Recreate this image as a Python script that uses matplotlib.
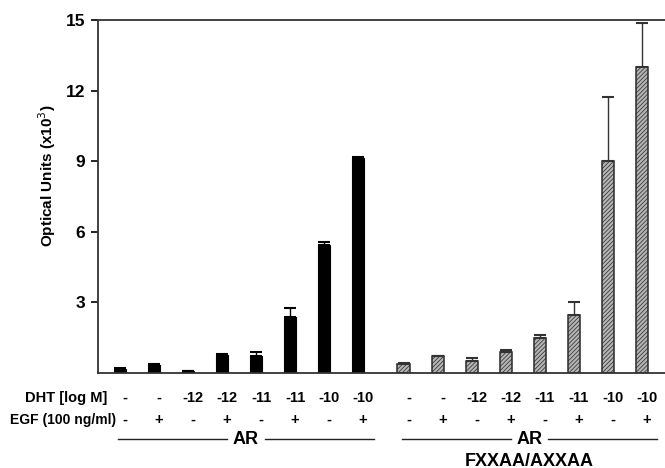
import matplotlib
matplotlib.use("Agg")
import matplotlib.pyplot as plt
import matplotlib.transforms as mtransforms
import numpy as np

plt.rcParams['font.family'] = ['Liberation Sans', 'DejaVu Sans']
plt.rcParams['hatch.linewidth'] = 0.5

# Data
dht_labels = ["-", "-", "-12", "-12", "-11", "-11", "-10", "-10"]
egf_labels = ["-", "+", "-", "+", "-", "+", "-", "+"]
ar_values = [0.17, 0.33, 0.08, 0.77, 0.72, 2.38, 5.45, 9.12]
ar_errors = [0.05, 0.04, 0.02, 0.03, 0.18, 0.40, 0.12, 0.05]
mut_values = [0.38, 0.72, 0.51, 0.89, 1.49, 2.47, 9.02, 13.02]
mut_errors = [0.05, 0.02, 0.13, 0.08, 0.13, 0.55, 2.72, 1.87]
group_names = ["AR", "AR"]
group_sub = ["", "FXXAA/AXXAA"]
yticks = [3, 6, 9, 12, 15]

fig = plt.figure(figsize=(6.65, 4.68), dpi=100)
ax = fig.add_axes([98/665, 1-373/468, 1-98/665, (373-20)/468])

n = len(ar_values)
gap = 1.33
x1 = np.arange(n)
x2 = np.arange(n) + n + gap - 1
w = 0.36

ax.bar(x1, ar_values, width=w, color='black', edgecolor='black', linewidth=0.8, zorder=2)
ax.errorbar(x1, ar_values, yerr=[np.zeros(n), ar_errors], fmt='none',
            ecolor='black', elinewidth=1, capsize=4, capthick=1.5, zorder=3)
ax.bar(x2, mut_values, width=w, color='#b4b4b4', edgecolor='#2a2a2a', hatch='////////',
       linewidth=1.1, zorder=2)
ax.errorbar(x2, mut_values, yerr=[np.zeros(n), mut_errors], fmt='none',
            ecolor='#333333', elinewidth=1, capsize=4, capthick=1.5, zorder=3)

ax.set_ylim(0, 15)
ax.set_xlim(x1[0] - 0.65, x2[-1] + 0.68)
ax.set_yticks(yticks)
ax.set_yticklabels([str(t) for t in yticks], fontsize=12.5, fontweight='bold')
ax.set_xticks([])
ax.spines['right'].set_visible(False)
for s in ['left', 'top', 'bottom']:
    ax.spines[s].set_linewidth(1.3)
    ax.spines[s].set_color('#333333')
ax.tick_params(axis='y', direction='out', length=5, width=1.2, pad=4)
fig.text(47/665, 1 - 176/468, "Optical Units (x10$^3$)", rotation=90, ha='center',
         va='center', fontsize=11, fontweight='bold')

trans = mtransforms.blended_transform_factory(ax.transData, fig.transFigure)
y_dht = 1 - 398/468
y_egf = 1 - 420/468
y_line = 1 - 439/468
y_sub = 1 - 461/468
off = 0.14
allx = list(x1) + list(x2)
for xi, d, e in zip(allx, dht_labels * 2, egf_labels * 2):
    ax.text(xi + off, y_dht, d, transform=trans, ha='center', va='center',
            fontsize=10.5, fontweight='bold')
    ax.text(xi + off, y_egf, e, transform=trans, ha='center', va='center',
            fontsize=10.5, fontweight='bold')

fig.text(25/665, y_dht, "DHT [log M]", ha='left', va='center', fontsize=10.5, fontweight='bold')
fig.text(10/665, y_egf, "EGF (100 ng/ml)", ha='left', va='center', fontsize=10, fontweight='bold')

for xs, name, sub in zip([x1, x2], group_names, group_sub):
    x0, xe = xs[0] - 0.05, xs[-1] + 0.45
    xm = (xs[0] + xs[-1]) / 2 + 0.2
    half = 0.55
    ax.plot([x0, xm - half], [y_line, y_line], transform=trans, color='#222222',
            lw=1.0, clip_on=False)
    ax.plot([xm + half, xe], [y_line, y_line], transform=trans, color='#222222',
            lw=1.0, clip_on=False)
    ax.text(xm, y_line, name, transform=trans, ha='center', va='center',
            fontsize=13, fontweight='bold')
    if sub:
        ax.text(xm, y_sub, sub, transform=trans, ha='center', va='center',
                fontsize=13, fontweight='bold')

fig.savefig("out.png", dpi=100)
